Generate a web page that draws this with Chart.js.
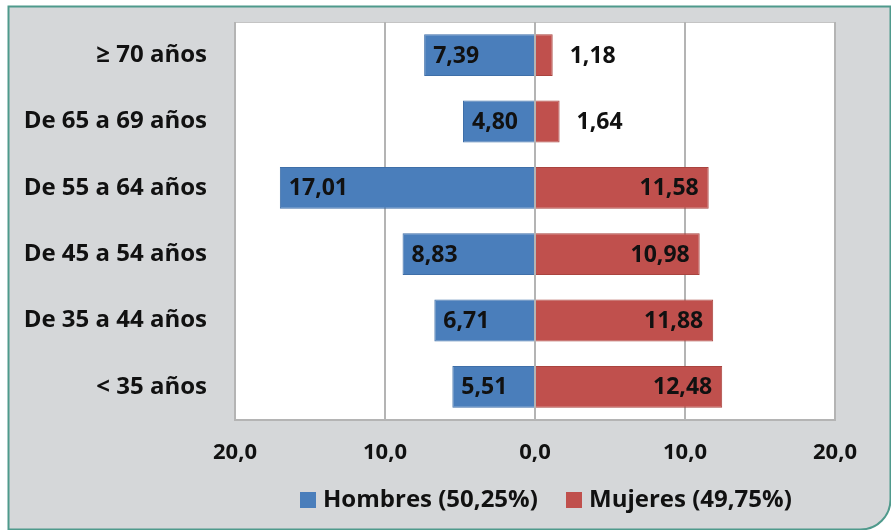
<!DOCTYPE html>
<html>
<head>
<meta charset="utf-8">
<script src="https://cdn.jsdelivr.net/npm/chart.js@4"></script>
<style>
  html, body { margin: 0; padding: 0; background: #ffffff; }
  #wrap { width: 891px; height: 530px; }
</style>
</head>
<body>
<div id="wrap"><canvas id="chart" width="891" height="530"></canvas></div>
<script>
// categorías (de arriba a abajo)
const categorias = ["≥ 70 años", "De 65 a 69 años", "De 55 a 64 años", "De 45 a 54 años", "De 35 a 44 años", "< 35 años"];
// porcentajes por sexo
const hombres = [7.39, 4.80, 17.01, 8.83, 6.71, 5.51];
const mujeres = [1.18, 1.64, 11.58, 10.98, 11.88, 12.48];
const leyenda = ["Hombres (50,25%)", "Mujeres (49,75%)"];
const ticksX = [-20, -10, 0, 10, 20];

const azul = "#4a7ebb";
const rojo = "#c0504d";
const fuente = "'Open Sans', Lato, sans-serif";

const fmt = (v, d) => Math.abs(v).toFixed(d).replace(".", ",");

// fondo gris con borde verde y área blanca
const fondoPlugin = {
  id: "fondo",
  beforeDraw(chart) {
    const ctx = chart.ctx;
    const a = chart.chartArea;
    ctx.save();
    ctx.fillStyle = "#ffffff";
    ctx.fillRect(0, 0, chart.width, chart.height);
    ctx.beginPath();
    ctx.roundRect(8.5, 6.5, 882, 523, [0, 0, 30, 0]);
    ctx.fillStyle = "#d5d7d9";
    ctx.fill();
    ctx.strokeStyle = "#4f9a8c";
    ctx.lineWidth = 2;
    ctx.stroke();
    ctx.fillStyle = "#ffffff";
    ctx.fillRect(a.left, a.top, a.right - a.left, a.bottom - a.top);
    ctx.strokeStyle = "#c4c4c4";
    ctx.lineWidth = 1;
    ctx.beginPath();
    ctx.moveTo(a.left, a.top + 0.5);
    ctx.lineTo(a.right, a.top + 0.5);
    ctx.stroke();
    ctx.restore();
  }
};

// etiquetas de valor y leyenda
const etiquetasPlugin = {
  id: "etiquetas",
  afterDatasetsDraw(chart) {
    const ctx = chart.ctx;
    ctx.save();
    ctx.font = "bold 23px " + fuente;
    ctx.fillStyle = "#111111";
    ctx.textBaseline = "middle";
    chart.data.datasets.forEach((ds, di) => {
      chart.getDatasetMeta(di).data.forEach((bar, i) => {
        const v = ds.data[i];
        const txt = fmt(v, 2);
        if (di === 0) {
          ctx.textAlign = "left";
          ctx.fillText(txt, bar.x + 9, bar.y + 1);
        } else if (Math.abs(v) < 5) {
          ctx.textAlign = "left";
          ctx.fillText(txt, bar.x + 17, bar.y + 1);
        } else {
          ctx.textAlign = "right";
          ctx.fillText(txt, bar.x - 10, bar.y + 1);
        }
      });
    });
    ctx.restore();
  },
  afterDraw(chart) {
    const ctx = chart.ctx;
    ctx.save();
    ctx.font = "bold 24px " + fuente;
    ctx.textBaseline = "middle";
    ctx.textAlign = "left";
    const colores = [azul, rojo];
    const xs = [300, 566];
    const y = 500;
    leyenda.forEach((t, k) => {
      ctx.fillStyle = colores[k];
      ctx.fillRect(xs[k], y - 8, 16, 16);
      ctx.fillStyle = "#111111";
      ctx.fillText(t, xs[k] + 23, y);
    });
    ctx.restore();
  }
};

new Chart(document.getElementById("chart"), {
  type: "bar",
  data: {
    labels: categorias,
    datasets: [
      { label: leyenda[0], data: hombres.map(v => -v), backgroundColor: azul, borderColor: "#3f6fa8", borderWidth: 1 },
      { label: leyenda[1], data: mujeres, backgroundColor: rojo, borderColor: "#a9443f", borderWidth: 1 }
    ]
  },
  options: {
    indexAxis: "y",
    responsive: false,
    animation: false,
    layout: { padding: { left: 0, right: 56, top: 22, bottom: 46 } },
    categoryPercentage: 1,
    barPercentage: 0.63,
    plugins: {
      legend: { display: false },
      tooltip: { enabled: false }
    },
    scales: {
      x: {
        stacked: true,
        min: -20,
        max: 20,
        afterBuildTicks(scale) { scale.ticks = ticksX.map(v => ({ value: v })); },
        afterFit(scale) { scale.height = 64; },
        grid: { color: "#b4b4b4", lineWidth: 2, drawTicks: false },
        border: { display: true, color: "#b4b4b4", width: 2 },
        ticks: {
          padding: 20,
          color: "#111111",
          font: { family: fuente, size: 22, weight: "bold" },
          callback: v => fmt(v, 1)
        }
      },
      y: {
        stacked: true,
        afterFit(scale) {
          scale.width = 235;
          scale.paddingTop = 0;
          scale.paddingBottom = 0;
        },
        grid: { display: false },
        border: { display: false },
        ticks: {
          padding: 20,
          color: "#111111",
          font: { family: fuente, size: 24, weight: "bold" }
        }
      }
    }
  },
  plugins: [fondoPlugin, etiquetasPlugin]
});
</script>
</body>
</html>
